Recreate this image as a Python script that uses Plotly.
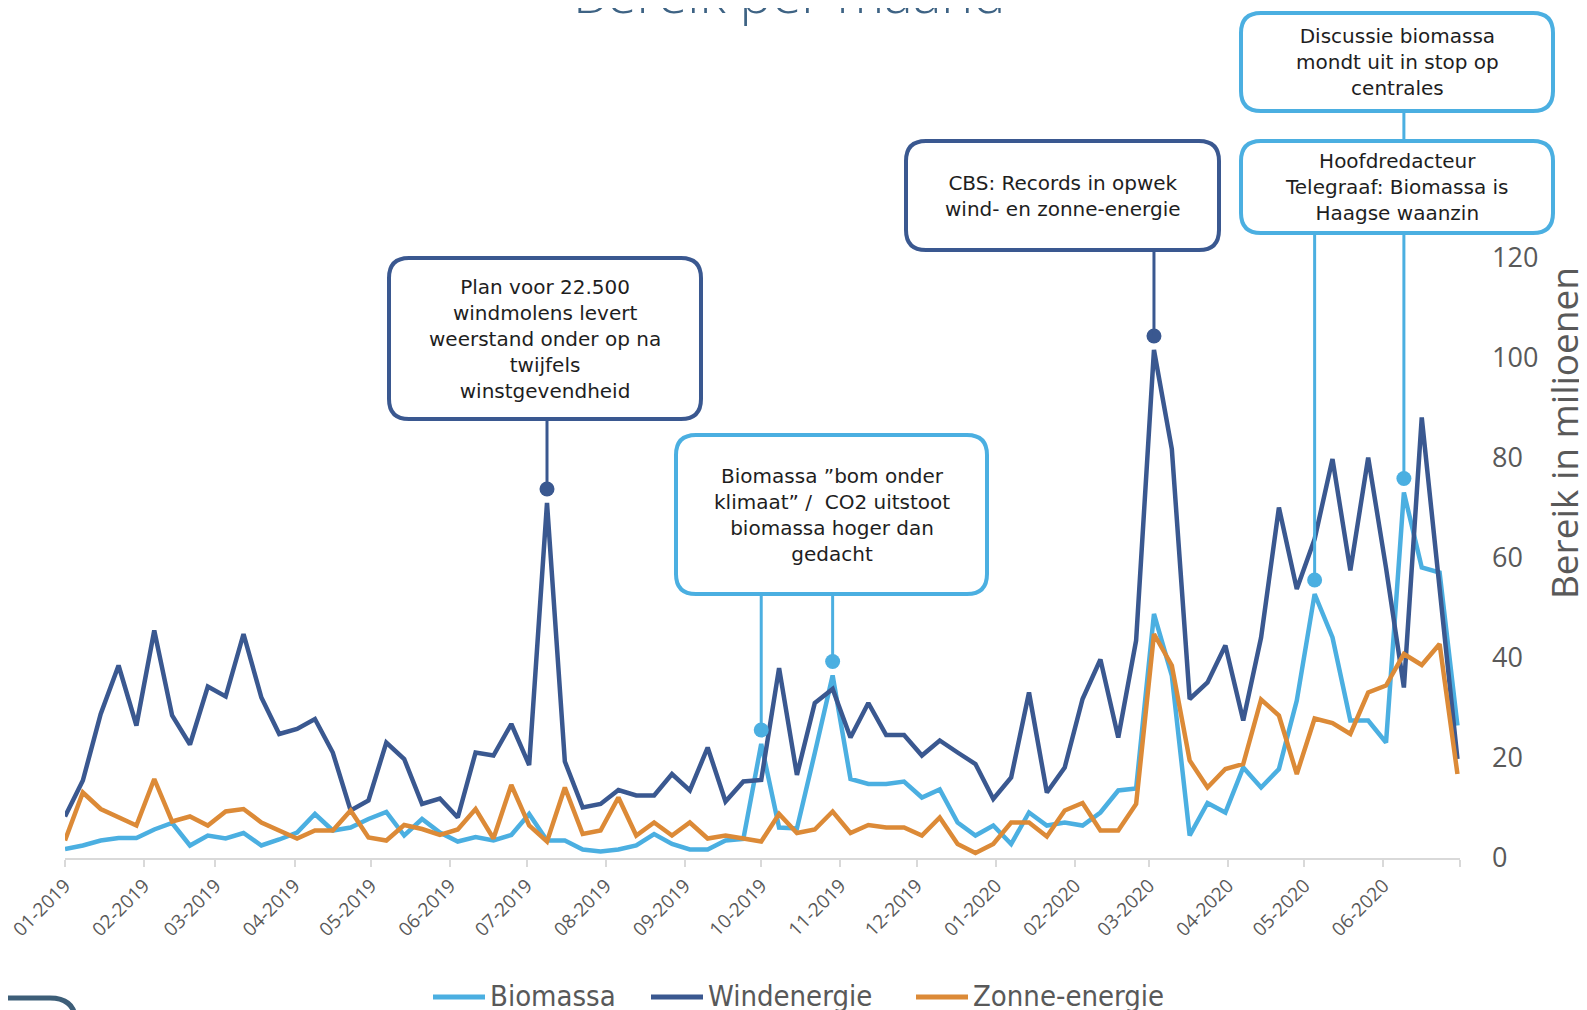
import plotly.graph_objects as go
import pandas as pd

# ---------------- data ----------------
DATES = pd.date_range("2019-01-01", periods=79, freq="7D")

BIOMASSA = [1.8, 2.5, 3.5, 4.0, 4.0, 5.7, 7.0, 2.5, 4.5, 3.9,
            5.0, 2.5, 3.7, 5.1, 8.8, 5.5, 6.1, 7.8, 9.2, 4.5,
            7.8, 5.1, 3.3, 4.2, 3.5, 4.6, 8.8, 3.5, 3.5, 1.7,
            1.3, 1.7, 2.5, 4.8, 2.8, 1.7, 1.7, 3.5, 3.8, 22.8,
            6.1, 5.9, 21.0, 36.5, 15.8, 14.8, 14.8, 15.3, 12.1, 13.7,
            7.1, 4.5, 6.5, 2.8, 9.1, 6.5, 7.1, 6.5, 9.1, 13.5,
            13.9, 48.8, 36.5, 4.5, 11.0, 9.1, 18.1, 14.1, 17.8, 31.5,
            52.8, 44.1, 27.5, 27.5, 23.1, 73.1, 58.1, 57.1, 26.5]

WINDENERGIE = [8.3, 15.5, 28.8, 38.5, 26.5, 45.5, 28.5, 22.7, 34.3, 32.3,
               44.8, 32.1, 24.8, 25.8, 27.8, 21.1, 9.5, 11.5, 23.1, 19.8,
               10.8, 11.9, 8.1, 21.1, 20.5, 26.8, 18.6, 71.0, 19.3, 10.1,
               10.8, 13.6, 12.5, 12.5, 16.8, 13.5, 22.1, 11.3, 15.3, 15.6,
               38.0, 16.6, 31.0, 33.8, 24.1, 31.0, 24.6, 24.6, 20.5, 23.5,
               21.1, 18.8, 11.8, 16.1, 33.1, 13.1, 18.1, 31.8, 39.7, 24.1,
               43.5, 101.6, 81.8, 31.8, 35.1, 42.5, 27.5, 44.1, 70.1, 53.8,
               63.8, 79.8, 57.5, 80.1, 58.0, 34.1, 88.1, 53.0, 19.8]

ZONNE_ENERGIE = [3.5, 13.1, 9.8, 8.1, 6.5, 15.8, 7.3, 8.3, 6.5, 9.3,
                 9.8, 7.1, 5.5, 3.9, 5.5, 5.5, 9.5, 4.1, 3.5, 6.6,
                 5.8, 4.6, 5.7, 9.8, 3.9, 14.6, 6.5, 3.3, 14.1, 4.8,
                 5.5, 12.1, 4.5, 7.1, 4.5, 7.1, 3.9, 4.5, 3.9, 3.3,
                 8.8, 5.0, 5.7, 9.3, 5.0, 6.6, 6.1, 6.1, 4.5, 8.1,
                 2.8, 1.0, 2.8, 7.1, 7.1, 4.3, 9.5, 11.0, 5.5, 5.5,
                 10.8, 44.8, 38.5, 19.5, 14.1, 17.8, 18.8, 31.7, 28.5, 16.8,
                 27.9, 27.0, 24.8, 33.1, 34.5, 40.8, 38.6, 42.8, 16.8]

SERIES_NAMES = ["Biomassa", "Windenergie", "Zonne-energie"]

TICK_DATES = pd.date_range("2019-01-01", "2020-07-01", freq="MS")
TICK_LABELS = ["01-2019", "02-2019", "03-2019", "04-2019", "05-2019", "06-2019",
               "07-2019", "08-2019", "09-2019", "10-2019", "11-2019", "12-2019",
               "01-2020", "02-2020", "03-2020", "04-2020", "05-2020", "06-2020", ""]
Y_TICKS = [0, 20, 40, 60, 80, 100, 120]

TITLE = "Bereik per maand"
Y_TITLE = "Bereik in miljoenen"

CALLOUT_TEXTS = [
    "Plan voor 22.500<br>windmolens levert<br>weerstand onder op na<br>twijfels<br>winstgevendheid",
    "Biomassa \u201dbom onder<br>klimaat\u201d /  CO2 uitstoot<br>biomassa hoger dan<br>gedacht",
    "CBS: Records in opwek<br>wind- en zonne-energie",
    "Hoofdredacteur<br>Telegraaf: Biomassa is<br>Haagse waanzin",
    "Discussie biomassa<br>mondt uit in stop op<br>centrales",
]
# (series name, week index) each callout line points to
CALLOUT_POINTS = [("Windenergie", 27), ("Biomassa", 39), ("Biomassa", 43),
                  ("Windenergie", 61), ("Biomassa", 70), ("Biomassa", 75)]

# ---------------- styling / layout ----------------
C_BIO = "#4BAFE1"
C_WIND = "#3A5890"
C_ZON = "#DC8A37"
COLORS = {"Biomassa": C_BIO, "Windenergie": C_WIND, "Zonne-energie": C_ZON}
VALUES = {"Biomassa": BIOMASSA, "Windenergie": WINDENERGIE, "Zonne-energie": ZONNE_ENERGIE}

FIG_W, FIG_H = 1587, 1010
OFF = 8                       # page offset of the figure (default body margin)
PLOT_L, PLOT_R, PLOT_B = 65, 1460, 858   # page pixels of the plot area
ML = PLOT_L - OFF
MT = 0
PH = PLOT_B - OFF
MB = FIG_H - PH
PW = PLOT_R - PLOT_L
MR = FIG_W - ML - PW
PX_PER_UNIT = 5.0
YMAX = PH / PX_PER_UNIT
DOT_OFFSET = 2.8
GRAY = "#595959"


def pxx(px):
    return (px - OFF - ML) / PW


def pxy(py):
    return (MT + PH - (py - OFF)) / PH


def py_to_val(py):
    return (PLOT_B - py) / PX_PER_UNIT


def rounded_box_path(x0, y0, x1, y1, r=20):
    pts = [
        ("M", [(x0 + r, y0)]), ("L", [(x1 - r, y0)]), ("Q", [(x1, y0), (x1, y0 + r)]),
        ("L", [(x1, y1 - r)]), ("Q", [(x1, y1), (x1 - r, y1)]),
        ("L", [(x0 + r, y1)]), ("Q", [(x0, y1), (x0, y1 - r)]),
        ("L", [(x0, y0 + r)]), ("Q", [(x0, y0), (x0 + r, y0)]),
    ]
    s = ""
    for cmd, ps in pts:
        s += cmd + " ".join(f"{pxx(a):.5f},{pxy(b):.5f}" for a, b in ps) + " "
    return s + "Z"


fig = go.Figure()
for name in SERIES_NAMES:
    fig.add_trace(go.Scatter(
        x=DATES, y=VALUES[name], name=name, mode="lines",
        line=dict(color=COLORS[name], width=4.5), showlegend=False,
    ))

# callout boxes (page-pixel rectangles), colour, text index, linked callout points
BOXES = [
    dict(rect=(389, 258, 701, 419), color=C_WIND, text=0, links=[0]),
    dict(rect=(676, 435, 987, 594), color=C_BIO, text=1, links=[1, 2]),
    dict(rect=(906, 141, 1219, 250), color=C_WIND, text=2, links=[3]),
    dict(rect=(1241, 13, 1553, 111), color=C_BIO, text=4, links=[5]),
    dict(rect=(1241, 141, 1553, 233), color=C_BIO, text=3, links=[4]),
]

shapes = []
for b in BOXES:
    bottom_val = py_to_val(b["rect"][3])
    for li in b["links"]:
        sname, idx = CALLOUT_POINTS[li]
        shapes.append(dict(
            type="line", xref="x", yref="y",
            x0=DATES[idx], x1=DATES[idx],
            y0=VALUES[sname][idx] + DOT_OFFSET, y1=bottom_val,
            line=dict(color=b["color"], width=3), layer="above",
        ))
annotations = []
for b in BOXES:
    x0, y0, x1, y1 = b["rect"]
    shapes.append(dict(
        type="path", xref="paper", yref="paper",
        path=rounded_box_path(x0, y0, x1, y1),
        line=dict(color=b["color"], width=4), fillcolor="white", layer="above",
    ))
    annotations.append(dict(
        xref="paper", yref="paper", x=pxx((x0 + x1) / 2), y=pxy((y0 + y1) / 2),
        xanchor="center", yanchor="middle", align="center", showarrow=False,
        text=CALLOUT_TEXTS[b["text"]],
        font=dict(family="DejaVu Sans", size=20, color="#1e1e1e"),
    ))

for sname, idx in CALLOUT_POINTS:
    fig.add_trace(go.Scatter(
        x=[DATES[idx]], y=[VALUES[sname][idx] + DOT_OFFSET], mode="markers",
        marker=dict(color=COLORS[sname], size=15), showlegend=False, hoverinfo="skip",
    ))

# legend drawn at the bottom: sample line + label for each series
LEGEND_STARTS = [433, 651, 916]
LEGEND_Y = 997
for name, x0 in zip(SERIES_NAMES, LEGEND_STARTS):
    shapes.append(dict(type="line", xref="paper", yref="paper",
                       x0=pxx(x0), x1=pxx(x0 + 52), y0=pxy(LEGEND_Y), y1=pxy(LEGEND_Y),
                       line=dict(color=COLORS[name], width=5)))
    annotations.append(dict(
        xref="paper", yref="paper", x=pxx(x0 + 55), y=pxy(LEGEND_Y - 1),
        xanchor="left", yanchor="middle", showarrow=False, text=name,
        font=dict(family="Liberation Sans Narrow, DejaVu Sans Condensed, Open Sans",
                  size=29, color=GRAY),
    ))

# decorative corner of neighbouring slide element (bottom-left)
corner = (f"M{pxx(-10):.5f},{pxy(998):.5f} L{pxx(50):.5f},{pxy(998):.5f} "
          f"Q{pxx(76):.5f},{pxy(998):.5f} {pxx(76):.5f},{pxy(1024):.5f} L{pxx(76):.5f},{pxy(1040):.5f}")
shapes.append(dict(type="path", xref="paper", yref="paper", path=corner,
                   line=dict(color="#3D5E78", width=5), layer="above"))

# title (partially cut off at the top of the page, as in the source)
annotations.append(dict(
    xref="paper", yref="paper", x=pxx(789), y=pxy(-8), xanchor="center", yanchor="middle",
    showarrow=False, text=TITLE,
    font=dict(family="Open Sans", size=54, color="#3E6384", weight=300),
))

fig.update_layout(
    width=FIG_W, height=FIG_H,
    margin=dict(l=ML, r=MR, t=MT, b=MB, autoexpand=False),
    paper_bgcolor="white", plot_bgcolor="white",
    shapes=shapes, annotations=annotations,
    showlegend=False,
    xaxis=dict(
        type="date", range=["2019-01-01", "2020-07-01"], automargin=False,
        tickmode="array", tickvals=list(TICK_DATES), ticktext=TICK_LABELS,
        tickangle=-45, tickfont=dict(family="Open Sans", size=19, color=GRAY),
        ticklabeloverflow="allow",
        showgrid=False, zeroline=False,
        showline=True, linecolor="#D9D9D9", linewidth=2,
        ticks="outside", ticklen=7, tickwidth=2, tickcolor="#D9D9D9",
    ),
    yaxis=dict(
        side="right", range=[0, YMAX], automargin=False,
        tickmode="array", tickvals=Y_TICKS,
        tickfont=dict(family="Open Sans", size=27, color=GRAY),
        ticklabeloverflow="allow",
        showgrid=False, zeroline=False, showline=False, ticks="",
        ticklabelstandoff=31,
        title=dict(text=Y_TITLE, font=dict(family="Open Sans", size=37, color=GRAY), standoff=7),
    ),
)

fig.write_html("out.html")
